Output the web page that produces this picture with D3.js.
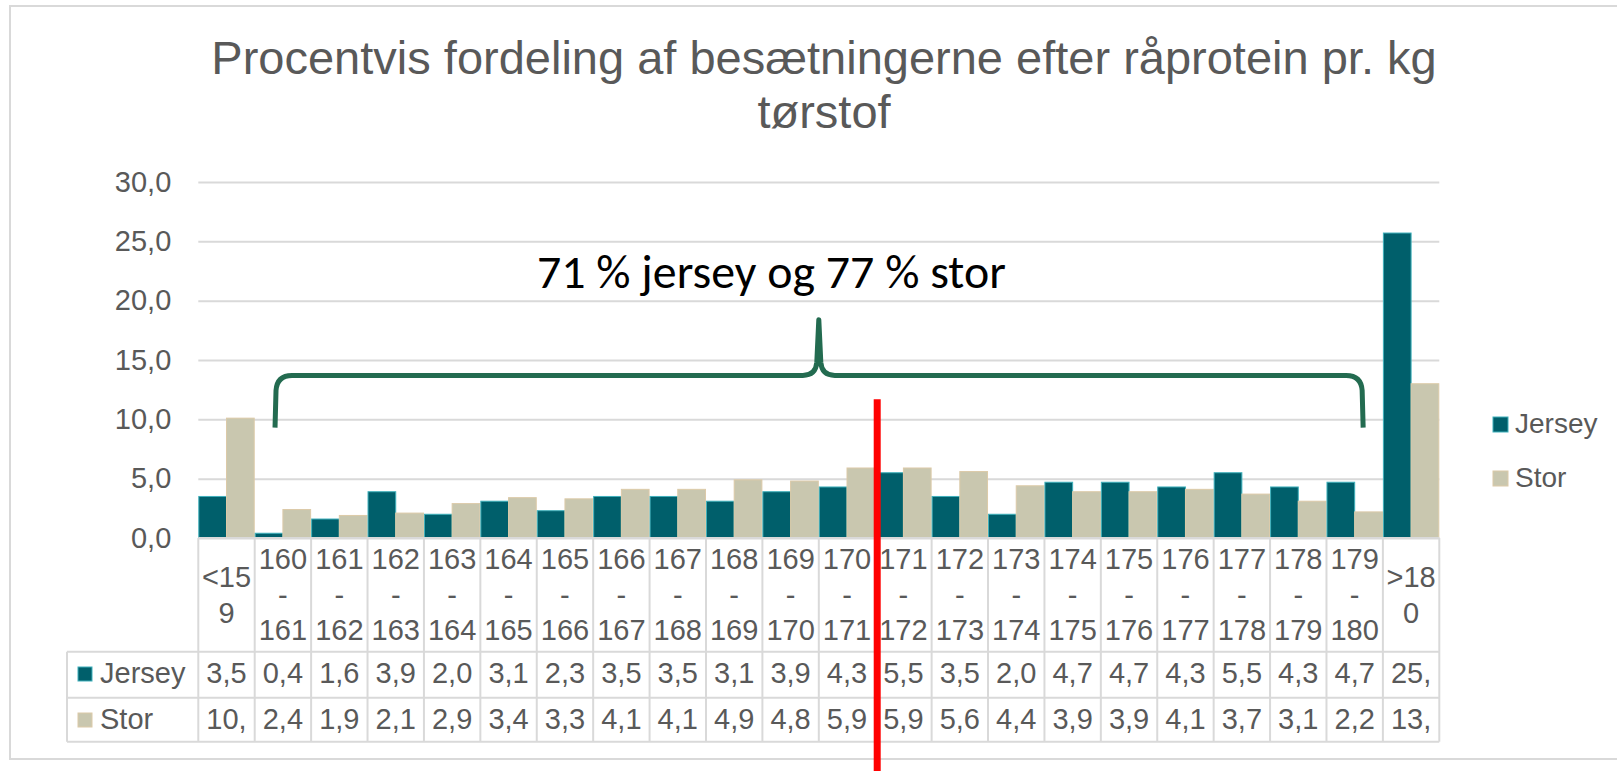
<!DOCTYPE html>
<html>
<head>
<meta charset="utf-8">
<script src="https://cdn.jsdelivr.net/npm/d3@7"></script>
<style>
  html, body { margin: 0; padding: 0; background: #ffffff; }
  svg { display: block; }
</style>
</head>
<body>
<svg id="chart" width="1617" height="771"></svg>
<script>
// ---- data ----
const categories = ["<159", "160 - 161", "161 - 162", "162 - 163", "163 - 164", "164 - 165",
  "165 - 166", "166 - 167", "167 - 168", "168 - 169", "169 - 170", "170 - 171",
  "171 - 172", "172 - 173", "173 - 174", "174 - 175", "175 - 176", "176 - 177",
  "177 - 178", "178 - 179", "179 - 180", ">180"];
const seriesNames = ["Jersey", "Stor"];
const jersey = [3.5, 0.4, 1.6, 3.9, 2.0, 3.1, 2.3, 3.5, 3.5, 3.1, 3.9, 4.3,
  5.5, 3.5, 2.0, 4.7, 4.7, 4.3, 5.5, 4.3, 4.7, 25.7];
const stor = [10.1, 2.4, 1.9, 2.1, 2.9, 3.4, 3.3, 4.1, 4.1, 4.9, 4.8, 5.9,
  5.9, 5.6, 4.4, 3.9, 3.9, 4.1, 3.7, 3.1, 2.2, 13.0];
const yTicks = [0, 5, 10, 15, 20, 25, 30];
const titleLines = ["Procentvis fordeling af besætningerne efter råprotein pr. kg", "tørstof"];
const annotationText = "71 % jersey og 77 % stor";

// ---- setup ----
const colors = { Jersey: "#005f6b", Stor: "#c9c7af" };
const strokes = { Jersey: "#3fb0bb", Stor: "#dccaa8" };
const textColor = "#595959";
const gridColor = "#d9d9d9";
const font = "'Liberation Sans', Arial, Helvetica, sans-serif";

const svg = d3.select("#chart");
const plotLeft = 198.3, plotRight = 1439.3, plotTop = 182, plotBottom = 538;

const x = d3.scaleBand().domain(categories).range([plotLeft, plotRight]).padding(0);
const bw = x.bandwidth();
const xs = d3.scaleBand().domain(seriesNames).range([0.5, bw - 0.5]).padding(0);
const y = d3.scaleLinear().domain([0, 30]).range([plotBottom, plotTop]);
const fmt = v => v.toFixed(1).replace(".", ",");

// outer frame
svg.append("rect").attr("x", 10).attr("y", 6).attr("width", 1700).attr("height", 753)
  .attr("fill", "none").attr("stroke", gridColor).attr("stroke-width", 2);

// title
svg.append("g").selectAll("text").data(titleLines).join("text")
  .attr("x", 824).attr("y", (d, i) => 74 + i * 54)
  .attr("text-anchor", "middle")
  .attr("font-family", font).attr("font-size", 47).attr("fill", textColor)
  .text(d => d);

// gridlines
svg.append("g").attr("transform", `translate(${plotLeft},0)`)
  .call(d3.axisLeft(y).tickValues(yTicks).tickSize(-(plotRight - plotLeft)).tickFormat(""))
  .call(g => g.select(".domain").remove())
  .call(g => g.selectAll("line").attr("stroke", gridColor).attr("stroke-width", 2));

// y axis labels
svg.append("g").attr("transform", `translate(${plotLeft},0)`)
  .call(d3.axisLeft(y).tickValues(yTicks).tickSize(0).tickPadding(27).tickFormat(fmt))
  .call(g => g.select(".domain").remove())
  .call(g => g.selectAll("text").attr("font-family", font).attr("font-size", 29).attr("fill", textColor));

// bars
const rows = categories.map((c, i) => ({ cat: c, Jersey: jersey[i], Stor: stor[i] }));
const barG = svg.append("g");
barG.selectAll("g").data(rows).join("g")
  .attr("transform", d => `translate(${x(d.cat)},0)`)
  .selectAll("rect").data(d => seriesNames.map(k => ({ key: k, value: d[k] }))).join("rect")
  .attr("x", d => xs(d.key))
  .attr("width", xs.bandwidth())
  .attr("y", d => y(d.value))
  .attr("height", d => y(0) - y(d.value))
  .attr("fill", d => colors[d.key])
  .attr("stroke", d => strokes[d.key]).attr("stroke-width", 1);

// ---- data table ----
const headerBottom = 651.7, row1Bottom = 697.7, row2Bottom = 741.7, tableLeft = 67;
const tableG = svg.append("g");
// horizontal axis line
tableG.append("line").attr("x1", plotLeft).attr("x2", plotRight).attr("y1", plotBottom).attr("y2", plotBottom)
  .attr("stroke", gridColor).attr("stroke-width", 2);
// vertical lines between cells
const bounds = categories.map(c => x(c)).concat([plotRight]);
tableG.selectAll("line.v").data(bounds).join("line").attr("class", "v")
  .attr("x1", d => d).attr("x2", d => d).attr("y1", plotBottom).attr("y2", row2Bottom)
  .attr("stroke", gridColor).attr("stroke-width", 2);
tableG.selectAll("line.h").data([headerBottom, row1Bottom, row2Bottom]).join("line").attr("class", "h")
  .attr("x1", tableLeft).attr("x2", plotRight).attr("y1", d => d).attr("y2", d => d)
  .attr("stroke", gridColor).attr("stroke-width", 2);
tableG.append("line").attr("x1", tableLeft).attr("x2", tableLeft).attr("y1", headerBottom).attr("y2", row2Bottom)
  .attr("stroke", gridColor).attr("stroke-width", 2);

// measure helper
const meas = svg.append("text").attr("font-family", font).attr("font-size", 29).attr("visibility", "hidden");
const textW = s => { meas.text(s); return meas.node().getComputedTextLength(); };
const maxW = bw - 3;

// wrap category labels like Excel
function wrapLabel(label) {
  const words = label.split(" ");
  const lines = [];
  words.forEach(w => {
    let rest = w;
    while (textW(rest) > maxW && rest.length > 1) {
      let k = rest.length - 1;
      while (k > 1 && textW(rest.slice(0, k)) > maxW) k--;
      lines.push(rest.slice(0, k));
      rest = rest.slice(k);
    }
    lines.push(rest);
  });
  return lines;
}
const lineH = 35.5;
const headerMid = (plotBottom + headerBottom) / 2;
categories.forEach(c => {
  const lines = wrapLabel(c);
  const t = tableG.append("text")
    .attr("font-family", font).attr("font-size", 29).attr("fill", textColor)
    .attr("text-anchor", "middle");
  lines.forEach((ln, i) => {
    t.append("tspan").attr("x", x(c) + bw / 2)
      .attr("y", headerMid + 10 + (i - (lines.length - 1) / 2) * lineH)
      .text(ln);
  });
});

// truncate values to fit cells
function fitText(s) {
  let r = s;
  while (textW(r) > maxW && r.length > 1) r = r.slice(0, -1);
  return r;
}
const tableRows = [
  { name: "Jersey", values: jersey, baseline: 683 },
  { name: "Stor", values: stor, baseline: 729 }
];
tableRows.forEach(r => {
  tableG.selectAll(null).data(r.values).join("text")
    .attr("x", (d, i) => x(categories[i]) + bw / 2)
    .attr("y", r.baseline)
    .attr("text-anchor", "middle")
    .attr("font-family", font).attr("font-size", 29).attr("fill", textColor)
    .text(d => fitText(fmt(d)));
  tableG.append("rect").attr("x", 78).attr("y", r.baseline - 16).attr("width", 14).attr("height", 14)
    .attr("fill", colors[r.name]).attr("stroke", strokes[r.name]).attr("stroke-width", 1);
  tableG.append("text").attr("x", 100).attr("y", r.baseline)
    .attr("font-family", font).attr("font-size", 29).attr("fill", textColor)
    .text(r.name);
});
meas.remove();

// legend
const legend = svg.append("g");
seriesNames.forEach((s, i) => {
  const by = 433 + i * 54;
  legend.append("rect").attr("x", 1493).attr("y", by - 16).attr("width", 15).attr("height", 15)
    .attr("fill", colors[s]).attr("stroke", strokes[s]).attr("stroke-width", 1);
  legend.append("text").attr("x", 1515).attr("y", by)
    .attr("font-family", font).attr("font-size", 28).attr("fill", textColor).text(s);
});

// ---- annotations ----
const c1 = x(categories[1]), c11 = x(categories[11]), c20 = x(categories[20]), c12 = x(categories[12]);
const bL = c1 + 0.36 * bw, bR = c20 + 0.65 * bw, bM = c11;
const yBot = y(9.3), yBar = y(13.7), yPeak = y(18.4);
const r = 15;
const bracePath = [
  `M${bL},${yBot}`,
  `L${bL + 1},${yBar + r}`,
  `Q${bL + 2},${yBar} ${bL + r + 2},${yBar}`,
  `L${bM - 16},${yBar}`,
  `Q${bM - 3},${yBar} ${bM - 2},${yBar - 13}`,
  `L${bM},${yPeak}`,
  `L${bM + 2},${yBar - 13}`,
  `Q${bM + 3},${yBar} ${bM + 16},${yBar}`,
  `L${bR - r - 2},${yBar}`,
  `Q${bR - 2},${yBar} ${bR - 1},${yBar + r}`,
  `L${bR},${yBot}`
].join(" ");
svg.append("path").attr("d", bracePath)
  .attr("fill", "none").attr("stroke", "#236b50").attr("stroke-width", 5)
  .attr("stroke-linejoin", "round").attr("stroke-linecap", "butt");

const ann = svg.append("text").attr("x", 537).attr("y", y(21.1))
  .attr("font-family", "Carlito, Calibri, Lato, 'Open Sans', sans-serif")
  .attr("font-size", 48).attr("fill", "#000000").text(annotationText);
const aw = ann.node().getComputedTextLength();
ann.attr("font-size", 48 * 469 / aw);

// red vertical line
svg.append("line").attr("x1", c12 + 2).attr("x2", c12 + 2).attr("y1", y(11.7)).attr("y2", 771)
  .attr("stroke", "#ff0000").attr("stroke-width", 7);
</script>
</body>
</html>
